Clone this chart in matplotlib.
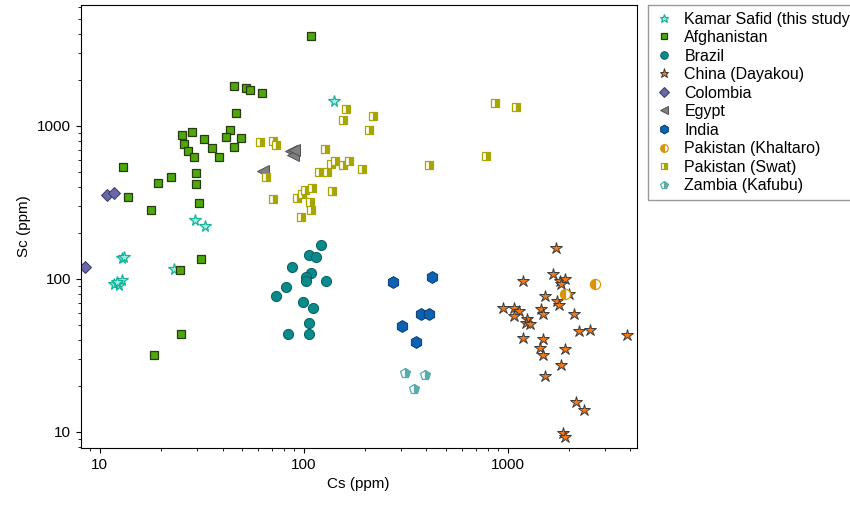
import matplotlib
matplotlib.use("Agg")
import matplotlib.pyplot as plt
from matplotlib.ticker import FuncFormatter

plt.rcParams.update({"font.family": ["Liberation Sans", "DejaVu Sans"], "font.size": 11})

# Cs (ppm), Sc (ppm) per locality
kamar_cs = [140, 29.3, 32.7, 12.8, 13.2, 23.1, 11.7, 12.4, 12.9, 12.2]
kamar_sc = [1450, 243, 222, 137, 140, 116, 92, 91, 99, 95]
afg_cs = [108, 45.4, 52.1, 54.8, 62.5, 46.8, 25.3, 28.3, 43.3, 41.5, 32.4, 49.3, 26.0, 27.2, 29.0,
          35.4, 45.4, 38.6, 13.0, 22.4, 29.6, 19.2, 29.6, 13.7, 30.8, 17.9, 31.4, 24.8, 24.9, 18.5]
afg_sc = [3890, 1830, 1780, 1720, 1650, 1220, 873, 918, 937, 851, 822, 839, 762, 687, 631,
          714, 729, 625, 537, 467, 489, 422, 417, 345, 315, 284, 134, 114, 43.7, 31.9]
bra_cs = [121, 106, 115, 87.3, 109, 103, 103, 129, 81.6, 73.1, 98.9, 111, 106, 83.8, 106]
bra_sc = [167, 144, 139, 119, 110, 103, 97, 96.6, 89, 77.8, 70.5, 64.6, 51.8, 43.7, 43.3]
chn_cs = [1730, 1195, 1660, 1800, 1920, 1830, 2000, 1530, 1740, 1790, 2110, 944, 1073, 1136, 1080,
          1455, 1485, 1240, 1230, 1286, 2250, 2530, 3850, 1185, 1497, 1442, 1497, 1900, 1820, 1530,
          2160, 2370, 1870, 1920]
chn_sc = [160, 97.5, 107, 96.6, 99.5, 92.8, 79.5, 77.8, 71.4, 67.9, 59, 64.9, 64.6, 61.8, 56.8,
          63.7, 58.8, 54.5, 51.4, 50.6, 45.3, 46.4, 43.1, 41, 40.3, 35.3, 31.8, 34.9, 27.4, 23.3,
          15.6, 13.9, 9.8, 9.3]
col_cs = [8.5, 10.8, 11.8]
col_sc = [119, 354, 363]
egy_cs = [87, 88.6, 90, 63]
egy_sc = [690, 646, 700, 511]
ind_cs = [273, 428, 378, 413, 305, 354]
ind_sc = [95, 103, 59, 59, 49, 38.9]
kha_cs = [2670, 1900]
kha_sc = [92.2, 79.5]
swat_cs = [161, 155, 218, 209, 867, 1094, 787, 413, 60.8, 70.8, 73.2, 127, 65.6, 142, 136, 156,
           167, 193, 130, 119, 71, 92.7, 97.7, 102, 110, 137, 107, 108, 97]
swat_sc = [1285, 1089, 1167, 946, 1413, 1324, 637, 559, 791, 798, 748, 711, 464, 590, 565, 559,
           588, 521, 503, 500, 332, 338, 358, 380, 392, 374, 320, 281, 252]
zam_cs = [314, 394, 349]
zam_sc = [24.4, 23.6, 19.0]

fig = plt.figure(figsize=(8.5, 5.13), dpi=100)
ax = fig.add_axes([0.095, 0.127, 0.654, 0.863])

def pts(x, y, label, **kw):
    ax.plot(x, y, ls="none", label=label, **kw)

pts(kamar_cs, kamar_sc, "Kamar Safid (this study)", marker="*", ms=8.5, mfc="#a8ece0", mec="#14b39c", mew=0.9)
pts(afg_cs, afg_sc, "Afghanistan", marker="s", ms=6.3, mfc="#4ea80c", mec="#2a3a10", mew=0.9)
pts(bra_cs, bra_sc, "Brazil", marker="o", ms=7.3, mfc="#0a8a8a", mec="#066060", mew=0.7)
pts(chn_cs, chn_sc, "China (Dayakou)", marker="*", ms=9, mfc="#f07a1a", mec="#3a3a3a", mew=0.7)
pts(col_cs, col_sc, "Colombia", marker="D", ms=6.5, mfc="#6a68a8", mec="#3a3a60", mew=0.7)
pts(egy_cs, egy_sc, "Egypt", marker="<", ms=8.5, mfc="#7f7f7f", mec="#505050", mew=0.7)
pts(ind_cs, ind_sc, "India", marker="h", ms=8.5, mfc="#0a62b0", mec="#063a70", mew=0.7)
pts(kha_cs, kha_sc, "Pakistan (Khaltaro)", marker="o", ms=7.3, fillstyle="left", mfc="#d8940c",
    mfcalt="white", mec="#d8940c", mew=0.9)
pts(swat_cs, swat_sc, "Pakistan (Swat)", marker="s", ms=6.3, fillstyle="right", mfc="#a8a400",
    mfcalt="white", mec="#a8a400", mew=0.9)
pts(zam_cs, zam_sc, "Zambia (Kafubu)", marker="p", ms=7.5, fillstyle="right", mfc="#58acac",
    mfcalt="white", mec="#58acac", mew=0.9)

ax.set_xscale("log")
ax.set_yscale("log")
ax.set_xlim(8.07, 4290)
ax.set_ylim(7.85, 6170)
fmt = FuncFormatter(lambda v, p: f"{v:g}")
ax.xaxis.set_major_formatter(fmt)
ax.yaxis.set_major_formatter(fmt)
ax.set_xlabel("Cs (ppm)")
ax.set_ylabel("Sc (ppm)")

ax.legend(loc="upper left", bbox_to_anchor=(0.762, 0.99), bbox_transform=fig.transFigure,
          fancybox=False, edgecolor="#808080", fontsize=11.5, handletextpad=0.7,
          borderaxespad=0, labelspacing=0.22, handlelength=1.2, markerscale=0.75)

fig.savefig("out.png", dpi=100)
